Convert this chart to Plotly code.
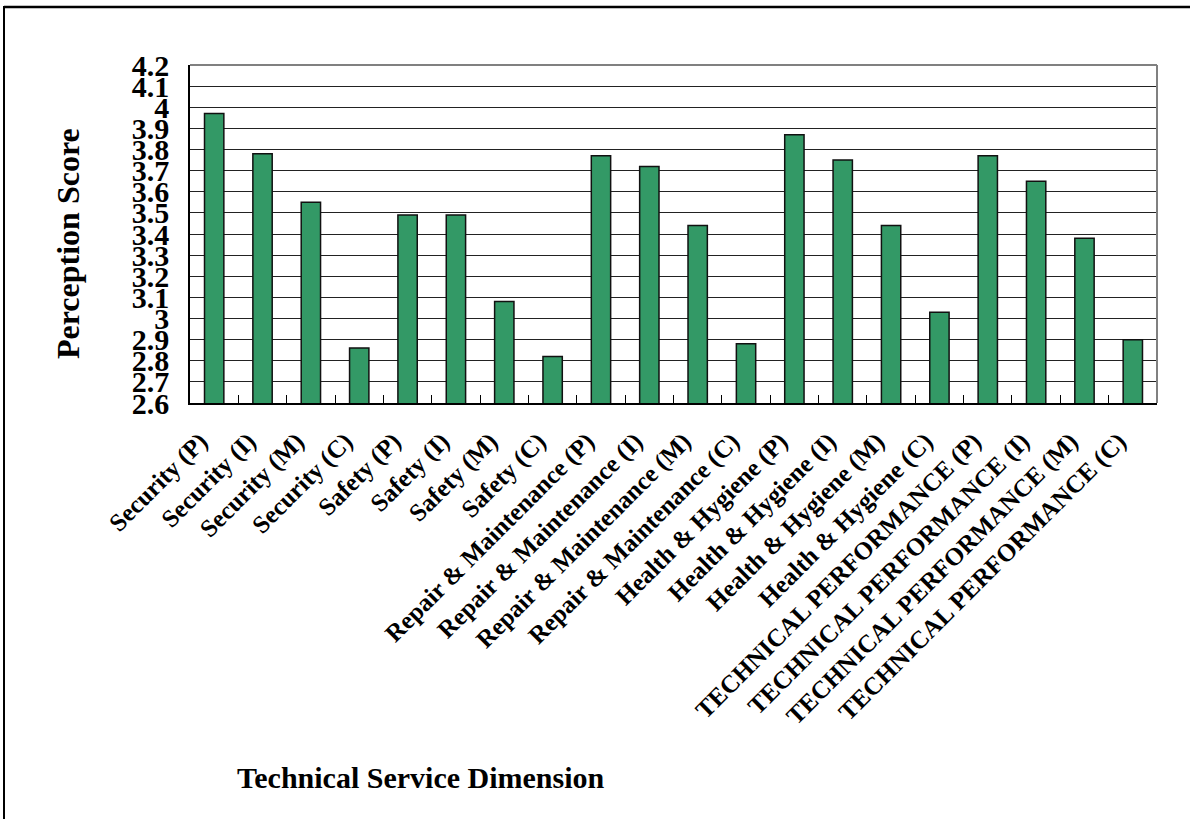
import plotly.graph_objects as go

# Technical service dimensions (P, I, M, C variants of each)
categories = [
    "Security (P)", "Security (I)", "Security (M)", "Security (C)",
    "Safety (P)", "Safety (I)", "Safety (M)", "Safety (C)",
    "Repair & Maintenance (P)", "Repair & Maintenance (I)",
    "Repair & Maintenance (M)", "Repair & Maintenance (C)",
    "Health & Hygiene (P)", "Health & Hygiene (I)",
    "Health & Hygiene (M)", "Health & Hygiene (C)",
    "TECHNICAL PERFORMANCE (P)", "TECHNICAL PERFORMANCE (I)",
    "TECHNICAL PERFORMANCE (M)", "TECHNICAL PERFORMANCE (C)",
]

# Mean perception scores
scores = [
    3.97, 3.78, 3.55, 2.86,
    3.49, 3.49, 3.08, 2.82,
    3.77, 3.72, 3.44, 2.88,
    3.87, 3.75, 3.44, 3.03,
    3.77, 3.65, 3.38, 2.90,
]

y_ticks = [2.6, 2.7, 2.8, 2.9, 3.0, 3.1, 3.2, 3.3, 3.4, 3.5,
           3.6, 3.7, 3.8, 3.9, 4.0, 4.1, 4.2]
y_tick_text = ["2.6", "2.7", "2.8", "2.9", "3", "3.1", "3.2", "3.3", "3.4",
               "3.5", "3.6", "3.7", "3.8", "3.9", "4", "4.1", "4.2"]

W, H = 1190, 819
L, R, T, B = 190, 1157, 65, 403   # plot area in pixels
FONT = "Liberation Serif"


def px(x):
    return (x - L) / (R - L)


def py(y):
    return (B - y) / (B - T)


fig = go.Figure(
    go.Bar(
        x=categories,
        y=scores,
        marker=dict(color="#339966", line=dict(color="#111111", width=1.5)),
        width=0.4,
    )
)

fig.update_layout(
    width=W,
    height=H,
    margin=dict(l=L, r=W - R, t=T, b=H - B),
    paper_bgcolor="white",
    plot_bgcolor="white",
    showlegend=False,
    font=dict(family=FONT, color="black"),
)

fig.update_xaxes(
    type="category",
    tickangle=-45,
    tickfont=dict(family=FONT, size=25, color="black", weight="bold"),
    ticks="inside",
    tickson="boundaries",
    ticklen=8,
    tickcolor="black",
    showline=True,
    linecolor="black",
    linewidth=1.5,
    showgrid=False,
    ticklabelstandoff=12,
    ticklabelshift=-14,
)

fig.update_yaxes(
    range=[2.6, 4.2],
    tickvals=y_ticks,
    ticktext=y_tick_text,
    tickfont=dict(family=FONT, size=30, color="black", weight="bold"),
    ticks="",
    showline=True,
    linecolor="black",
    linewidth=1.5,
    showgrid=True,
    gridcolor="#222222",
    gridwidth=1,
    zeroline=False,
    ticklabelstandoff=13,
)

shapes = [
    # plot-area border on top and right
    dict(type="line", xref="paper", yref="paper", x0=0, x1=1, y0=1, y1=1,
         line=dict(color="#808080", width=2)),
    dict(type="line", xref="paper", yref="paper", x0=1, x1=1, y0=0, y1=1,
         line=dict(color="#808080", width=2)),
    # outer frame (top and left)
    dict(type="line", xref="paper", yref="paper", x0=px(4), x1=px(1195),
         y0=py(7), y1=py(7), line=dict(color="black", width=2.5)),
    dict(type="line", xref="paper", yref="paper", x0=px(4), x1=px(4),
         y0=py(6), y1=py(830), line=dict(color="black", width=2)),
]

annotations = [
    dict(text="<b>Perception Score</b>", xref="paper", yref="paper",
         x=px(68), y=py(244), textangle=-90, showarrow=False,
         font=dict(family=FONT, size=32, color="black"),
         xanchor="center", yanchor="middle"),
    dict(text="<b>Technical Service Dimension</b>", xref="paper", yref="paper",
         x=px(235), y=py(777), showarrow=False,
         font=dict(family=FONT, size=30, color="black"),
         xanchor="left", yanchor="middle"),
]

fig.update_layout(shapes=shapes, annotations=annotations)

fig.write_html("out.html")
